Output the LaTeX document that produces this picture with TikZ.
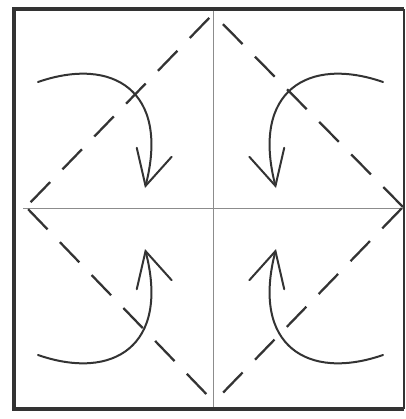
\documentclass[tikz,border=0pt]{standalone}
\usetikzlibrary{arrows.meta}
\definecolor{ink}{HTML}{333333}
\definecolor{creasecol}{HTML}{8C8C8C}
\begin{document}
\begin{tikzpicture}[x=0.75pt,y=-0.75pt,
  frame/.style={draw=ink,line width=2.4pt},
  crease/.style={draw=creasecol,line width=0.6pt},
  fold/.style={draw=ink,line width=1.7pt,dash pattern=on 21pt off 13.3pt},
  turn/.style={draw=ink,line width=1.5pt,line cap=round,
    -{Straight Barb[length=26pt,width=27pt,line cap=round]}}]
\useasboundingbox (0,0) rectangle (406,419);
\fill[white] (0,0) rectangle (406,419);
% diamond vertices
\coordinate (T) at (213,14);
\coordinate (L) at (26,207);
\coordinate (R) at (403,207);
\coordinate (B) at (214,402);
% creases
\draw[crease] (213,10) -- (213,408);
\draw[crease] (23,208) -- (404,208);
% dashed diamond
\draw[fold,dash phase=29.3pt] (L) -- (T);
\draw[fold,dash phase=32pt] (L) -- (B);
\draw[fold] (R) -- (T);
\draw[fold,dash phase=33pt] (R) -- (B);
% frame
\draw[frame] (404,9) -- (14,9) -- (14,409) -- (404,409);
\draw[draw=ink,line width=1.2pt] (404,9) -- (404,409);
% curved arrows
\draw[turn] (38,82) .. controls (113,56) and (170,91) .. (145,188);
\draw[turn] (383,82) .. controls (308,56) and (251,91) .. (276,188);
\draw[turn] (38,355) .. controls (113,381) and (170,346) .. (145,249);
\draw[turn] (383,355) .. controls (308,381) and (251,346) .. (276,249);
\end{tikzpicture}
\end{document}
